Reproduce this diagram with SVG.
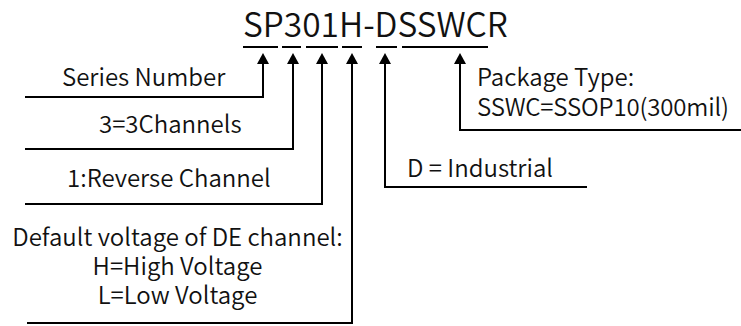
<svg xmlns="http://www.w3.org/2000/svg" width="741" height="326" viewBox="0 0 741 326">
<style>
text{font-family:"Noto Sans CJK SC","Source Sans Pro","Noto Sans",sans-serif;fill:#111;font-size:24px;font-weight:350}
.t{font-size:33.5px}
.u{stroke:#000;stroke-width:2;fill:none}
.c{stroke:#000;stroke-width:2;fill:none;marker-end:url(#ah)}
</style>
<defs>
<marker id="ah" markerUnits="userSpaceOnUse" markerWidth="12" markerHeight="12" refX="6" refY="6" orient="auto" viewBox="0 0 12 12">
<path d="M0,0 L11,6 L0,12 Z" fill="#000"/>
</marker>
</defs>
<g id="title">
<text class="t" x="243" y="37">SP301H-DSSWCR</text>
<path class="u" d="M243,47H278M282,47H301M306,47H338M342,47H362M376,47H397M402,47H488"/>
</g>
<g id="connectors">
<path class="c" d="M25,97H263V58"/>
<path class="c" d="M25,149H293V58"/>
<path class="c" d="M25,204H322V58"/>
<path class="c" d="M27,323H352V58"/>
<path class="c" d="M587,187H385V58"/>
<path class="c" d="M741,130H460V58"/>
</g>
<g id="series"><text x="62" y="86">Series Number</text></g>
<g id="channels"><text x="99" y="133">3=3Channels</text></g>
<g id="reverse"><text x="67" y="187">1:Reverse Channel</text></g>
<g id="default" text-anchor="middle">
<text x="177.5" y="246">Default voltage of DE channel:</text>
<text x="177.5" y="275">H=High Voltage</text>
<text x="177.5" y="304">L=Low Voltage</text>
</g>
<g id="industrial"><text x="407" y="177">D = Industrial</text></g>
<g id="package">
<text x="477" y="86">Package Type:</text>
<text x="477" y="116" textLength="252" lengthAdjust="spacing">SSWC=SSOP10(300mil)</text>
</g>
</svg>
